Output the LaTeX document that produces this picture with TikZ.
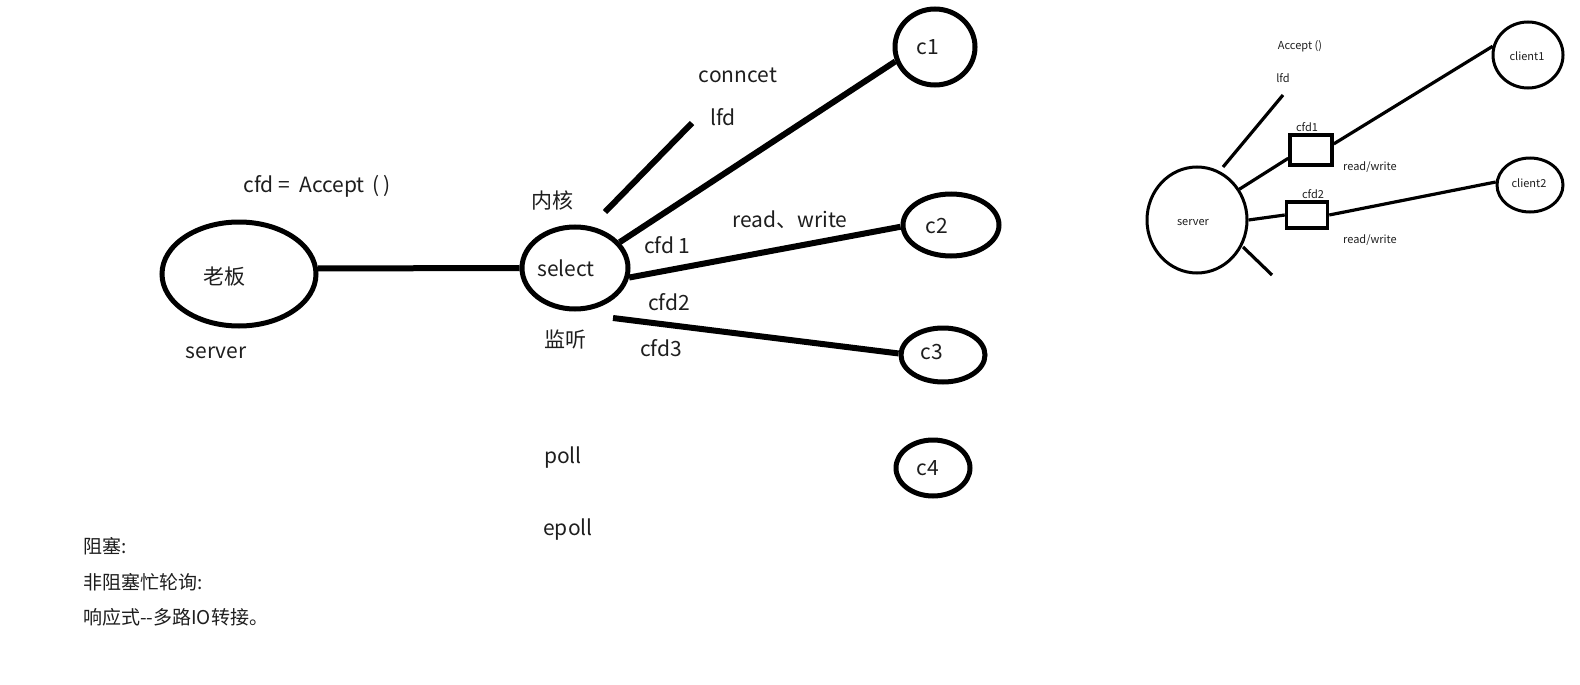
\documentclass[tikz,border=0pt]{standalone}
\usepackage{fontspec}
\setmainfont{Noto Sans CJK SC}
\usetikzlibrary{calc,shapes.geometric}
\definecolor{ink}{HTML}{1E1E1E}
\tikzset{
  big/.style={ellipse, draw=black, line width=5pt, inner sep=0pt},
  small/.style={ellipse, draw=black, line width=3pt, inner sep=0pt},
  wire/.style={line width=6pt, black},
  thin wire/.style={line width=3.2pt, black},
  lab/.style={text=ink, font=\fontsize{21}{25}\selectfont, inner sep=0pt},
  note/.style={text=ink, font=\fontsize{19}{23}\selectfont, inner sep=0pt, anchor=west},
  tiny/.style={text=ink, font=\fontsize{11}{13}\selectfont, inner sep=0pt},
  fdbox/.style={rectangle, draw=black, line width=3.5pt, inner sep=0pt},
}
\begin{document}
\begin{tikzpicture}[x=1pt, y=-1pt]
\useasboundingbox (0,0) rectangle (1580,685);

% main sketch: server, select and clients
\node[big, minimum width=154pt, minimum height=104pt] (boss) at (239,274) {};
\node[big, minimum width=106pt, minimum height=82pt] (select) at (575,268) {};
\node[big, minimum width=80pt, minimum height=76pt] (c1) at (935,47) {};
\node[big, minimum width=96pt, minimum height=62pt] (c2) at (951,225) {};
\node[big, minimum width=84pt, minimum height=54pt] (c3) at (943,355) {};
\node[big, minimum width=74pt, minimum height=56pt] (c4) at (933,468) {};

\coordinate (lfdA) at (605,212);
\coordinate (lfdB) at (692,123);
\coordinate (s3) at (613,318);

\draw[wire] (boss.4) -- (select.west);
\draw[wire] (select.30) -- (c1.200);
\draw[wire] (select.-10) -- (c2.182);
\draw[wire] (s3) -- (c3.178);
\draw[wire] (lfdA) -- (lfdB);

\node[lab] (tboss) at (224,277) {老板};
\node[lab] (tselect) at (566,268) {select};
\node[lab] (tc1) at (928,47) {c1};
\node[lab] (tc2) at (937,226) {c2};
\node[lab] (tc3) at (932,352) {c3};
\node[lab] (tc4) at (928,468) {c4};
\node[lab] (tconn) at (738,75) {conncet};
\node[lab] (tlfd) at (723,117) {lfd};
\node[lab] (taccept) at (317,186) {cfd =\ \ Accept\ \,(\,)};
\node[lab] (tkernel) at (552,200) {内核};
\node[lab] (tcfd1) at (667,245) {cfd\,1};
\node[lab] (trw) at (790,220) {read、write};
\node[lab] (tcfd2) at (669,302) {cfd2};
\node[lab] (tlisten) at (565,340) {监听};
\node[lab] (tcfd3) at (661,348) {cfd3};
\node[lab] (tserver) at (216,353) {server};
\node[lab] (tpoll) at (563,458) {poll};
\node[lab] (tepoll) at (568,530) {epoll};

\node[note] (n1) at (83,546) {阻塞:};
\node[note] (n2) at (83,582) {非阻塞忙轮询:};
\node[note] (n3) at (83,617) {响应式{-}{-}多路IO转接。};

% small sketch on the right
\node[small, minimum width=100pt, minimum height=106pt] (srv) at (1197,220) {};
\node[small, minimum width=70pt, minimum height=66pt] (cl1) at (1528,55) {};
\node[small, minimum width=66pt, minimum height=54pt] (cl2) at (1530,185) {};
\node[fdbox, minimum width=42pt, minimum height=30pt] (fd1) at (1311,150) {};
\node[fdbox, minimum width=41pt, minimum height=26pt] (fd2) at (1307,215) {};

\coordinate (rlA) at (1223,167);
\coordinate (rlB) at (1283,95);
\coordinate (stA) at (1243,247);
\coordinate (stB) at (1272,275);

\draw[thin wire] (rlA) -- (rlB);
\draw[thin wire] (srv.36) -- (fd1.200);
\draw[thin wire] (fd1.15) -- (cl1.166);
\draw[thin wire] (srv.east) -- (fd2.west);
\draw[thin wire] (fd2.east) -- (cl2.175);
\draw[thin wire] (stA) -- (stB);

\node[tiny] (tsrv) at (1193,223) {server};
\node[tiny] (tcl1) at (1527,56) {client1};
\node[tiny] (tcl2) at (1529,183) {client2};
\node[tiny] (tacc) at (1300,46) {Accept ()};
\node[tiny] (tlfd2) at (1283,78) {lfd};
\node[tiny] (tfd1) at (1307,127) {cfd1};
\node[tiny] (tfd2) at (1313,194) {cfd2};
\node[tiny] (trw1) at (1370,167) {read/write};
\node[tiny] (trw2) at (1370,240) {read/write};
\end{tikzpicture}
\end{document}
